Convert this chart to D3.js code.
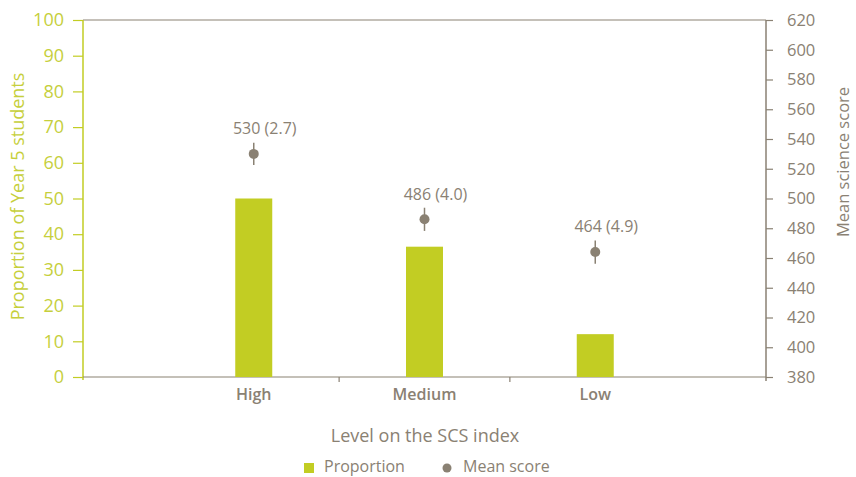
<!DOCTYPE html>
<html><head><meta charset="utf-8">
<script src="https://cdn.jsdelivr.net/npm/d3@7"></script>
<style>body{margin:0;background:#fff}svg{display:block;font-family:"Open Sans",sans-serif}</style>
</head><body><svg id="c" width="856" height="477"></svg>
<script>
const categories = ["High", "Medium", "Low"];
const proportion = [50, 36.5, 12];
const meanScore = [530, 486, 464];
const standardError = [2.7, 4.0, 4.9];
const errorHalf = [7.5, 7.8, 7.8];
const leftTicks = [0,10,20,30,40,50,60,70,80,90,100];
const rightTicks = [380,400,420,440,460,480,500,520,540,560,580,600,620];

const GREEN = "#c2cd23", GREEN_TXT = "#c6cf3c", GREY = "#8a8173";
const svg = d3.select("#c");
const L = 83, R = 766, T = 20, B = 377;

const x = d3.scaleBand().domain(categories).range([L, R]).paddingOuter(0.5).paddingInner(0);
const yL = d3.scaleLinear().domain([0, 100]).range([B, T]);
const yR = d3.scaleLinear().domain([380, 620]).range([B, T]);

svg.append("line").attr("x1", L).attr("x2", R).attr("y1", T).attr("y2", T).attr("stroke", GREY).attr("stroke-width", 1);

const gl = svg.append("g").attr("transform", `translate(${L},0)`)
  .call(d3.axisLeft(yL).tickValues(leftTicks).tickSize(10).tickPadding(9));
gl.select(".domain").attr("stroke", GREEN).attr("stroke-width", 1.5).attr("d", `M0,${T}V${B+3}`);
gl.selectAll(".tick line").attr("stroke", GREEN).attr("stroke-width", 1.2);
gl.selectAll(".tick text").attr("fill", GREEN_TXT).style("font-size", "18px").style("font-family", "Open Sans");

const gr = svg.append("g").attr("transform", `translate(${R},0)`)
  .call(d3.axisRight(yR).tickValues(rightTicks).tickSize(7).tickPadding(14));
gr.select(".domain").attr("stroke", GREY).attr("stroke-width", 1.5).attr("d", `M0,${T}V${B+4}`);
gr.selectAll(".tick line").attr("stroke", GREY).attr("stroke-width", 1.2);
gr.selectAll(".tick text").attr("fill", GREY).style("font-size", "16.5px").style("font-family", "Open Sans");

svg.append("line").attr("x1", L).attr("x2", R).attr("y1", B).attr("y2", B).attr("stroke", GREY).attr("stroke-width", 1.2);
svg.selectAll(".cattick").data(categories.slice(1)).enter().append("line")
  .attr("x1", d => x(d)).attr("x2", d => x(d)).attr("y1", B).attr("y2", B + 5)
  .attr("stroke", GREY).attr("stroke-width", 1.2);
svg.selectAll(".catlab").data(categories).enter().append("text")
  .attr("x", d => x(d) + x.bandwidth() / 2).attr("y", B + 23)
  .attr("text-anchor", "middle").attr("fill", GREY)
  .style("font-size", "16px").style("font-weight", 600).text(d => d);

const bw = 37;
svg.selectAll(".bar").data(categories).enter().append("rect")
  .attr("x", d => x(d) + x.bandwidth() / 2 - bw / 2)
  .attr("width", bw)
  .attr("y", (d, i) => yL(proportion[i]))
  .attr("height", (d, i) => B - yL(proportion[i]))
  .attr("fill", GREEN);

const cx = d => x(d) + x.bandwidth() / 2;
svg.selectAll(".err").data(categories).enter().append("line")
  .attr("x1", cx).attr("x2", cx)
  .attr("y1", (d, i) => yR(meanScore[i] + errorHalf[i]))
  .attr("y2", (d, i) => yR(meanScore[i] - errorHalf[i]))
  .attr("stroke", GREY).attr("stroke-width", 1.5);
svg.selectAll(".pt").data(categories).enter().append("circle")
  .attr("cx", cx).attr("cy", (d, i) => yR(meanScore[i])).attr("r", 5)
  .attr("fill", GREY);
svg.selectAll(".ptlab").data(categories).enter().append("text")
  .attr("x", d => cx(d) + 11).attr("y", (d, i) => yR(meanScore[i]) - 24)
  .attr("text-anchor", "middle").attr("dominant-baseline", "middle").attr("fill", GREY)
  .style("font-size", "16px")
  .text((d, i) => `${meanScore[i]} (${standardError[i].toFixed(1)})`);

svg.append("text").attr("transform", `translate(19,${(T + B) / 2 - 2}) rotate(-90)`)
  .attr("text-anchor", "middle").attr("dominant-baseline", "middle")
  .attr("fill", GREEN_TXT).style("font-size", "18px").text("Proportion of Year 5 students");
svg.append("text").attr("transform", `translate(845,162) rotate(-90)`)
  .attr("text-anchor", "middle").attr("dominant-baseline", "middle")
  .attr("fill", GREY).style("font-size", "16.5px").text("Mean science score");
svg.append("text").attr("x", 425).attr("y", 437)
  .attr("text-anchor", "middle").attr("dominant-baseline", "middle")
  .attr("fill", GREY).style("font-size", "18px").text("Level on the SCS index");

svg.append("rect").attr("x", 304).attr("y", 463).attr("width", 10).attr("height", 10).attr("fill", GREEN);
svg.append("text").attr("x", 324).attr("y", 468).attr("dominant-baseline", "middle")
  .attr("fill", GREY).style("font-size", "16px").text("Proportion");
svg.append("circle").attr("cx", 447).attr("cy", 468).attr("r", 4.5).attr("fill", GREY);
svg.append("text").attr("x", 463).attr("y", 468).attr("dominant-baseline", "middle")
  .attr("fill", GREY).style("font-size", "16px").text("Mean score");
</script></body></html>
